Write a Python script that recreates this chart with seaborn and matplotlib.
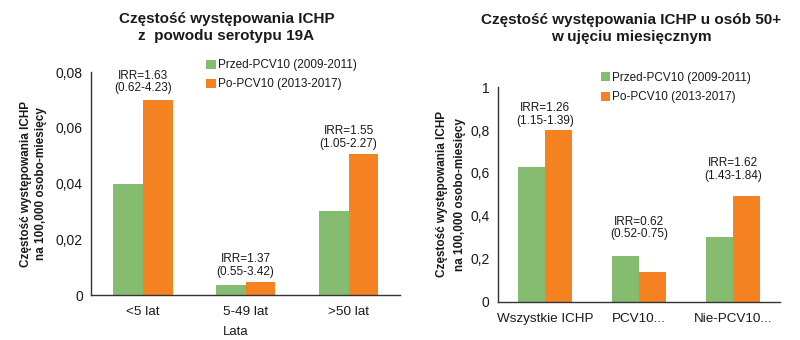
import matplotlib
matplotlib.use("Agg")
import matplotlib.pyplot as plt
import seaborn as sns
import pandas as pd
from matplotlib.patches import Patch

# ---- data ----
series_names = ["Przed-PCV10 (2009-2011)", "Po-PCV10 (2013-2017)"]

left_categories = ["<5 lat", "5-49 lat", ">50 lat"]
left_pre = [0.040, 0.0038, 0.030]
left_post = [0.070, 0.0048, 0.0505]
left_irr = ["IRR=1.63\n(0.62-4.23)", "IRR=1.37\n(0.55-3.42)", "IRR=1.55\n(1.05-2.27)"]
left_yticks = [0, 0.02, 0.04, 0.06, 0.08]
left_yticklabels = ["0", "0,02", "0,04", "0,06", "0,08"]

right_categories = ["Wszystkie ICHP", "PCV10...", "Nie-PCV10..."]
right_pre = [0.63, 0.215, 0.30]
right_post = [0.80, 0.14, 0.495]
right_irr = ["IRR=1.26\n(1.15-1.39)", "IRR=0.62\n(0.52-0.75)", "IRR=1.62\n(1.43-1.84)"]
right_yticks = [0, 0.2, 0.4, 0.6, 0.8, 1.0]
right_yticklabels = ["0", "0,2", "0,4", "0,6", "0,8", "1"]

# ---- style ----
sns.set_theme(style="white")
plt.rcParams["font.family"] = ["Liberation Sans", "DejaVu Sans"]
GREEN = "#86BC6F"
ORANGE = "#F58220"
AX_COLOR = "#333333"
TXT = "#1a1a1a"

fig = plt.figure(figsize=(8, 3.4), dpi=100)


def draw(ax, cats, pre, post, irr, yticks, yticklabels, ylim, pads, xlabel,
         ylab_spacing, ylab_pad):
    df = pd.DataFrame({
        "cat": cats * 2,
        "val": pre + post,
        "series": [series_names[0]] * len(cats) + [series_names[1]] * len(cats),
    })
    sns.barplot(data=df, x="cat", y="val", hue="series", order=cats,
                hue_order=series_names, palette=[GREEN, ORANGE],
                width=0.58, gap=0, saturation=1, legend=False, ax=ax,
                edgecolor="none")
    ax.set_xlim(-0.5, len(cats) - 0.5)
    ax.set_ylim(*ylim)
    ax.set_yticks(yticks)
    ax.set_yticklabels(yticklabels, fontsize=10, color=TXT)
    ax.set_xticks(range(len(cats)))
    ax.set_xticklabels(cats, fontsize=9.7, color=TXT)
    ax.set_xticks([i - 0.5 for i in range(len(cats) + 1)], minor=True)
    ax.tick_params(axis="x", which="major", length=0, pad=8)
    ax.tick_params(axis="x", which="minor", length=5, width=1, color=AX_COLOR, direction="out")
    ax.tick_params(axis="y", length=4, width=1, color=AX_COLOR, direction="out", pad=2)
    for s in ["top", "right"]:
        ax.spines[s].set_visible(False)
    for s in ["left", "bottom"]:
        ax.spines[s].set_color(AX_COLOR)
        ax.spines[s].set_linewidth(1)
    ax.set_ylabel("Częstość występowania ICHP\nna 100,000 osobo-miesięcy",
                  fontsize=8.5, fontweight="bold", color=TXT, labelpad=ylab_pad,
                  linespacing=ylab_spacing)
    ax.set_xlabel(xlabel, fontsize=9.5, color=TXT)
    for i, t in enumerate(irr):
        top = max(pre[i], post[i])
        ax.annotate(t, xy=(i, top), xytext=(0, pads[i]), textcoords="offset points",
                    ha="center", va="bottom", fontsize=8.5, color=TXT, linespacing=1.1)


axL = fig.add_axes([0.114, 0.132, 0.386, 0.656])
draw(axL, left_categories, left_pre, left_post, left_irr, left_yticks,
     left_yticklabels, (0, 0.08), [4, 3, 3], "Lata", 1.4, 6)
axL.xaxis.set_label_coords(0.467, -0.14)

axR = fig.add_axes([0.6225, 0.112, 0.3525, 0.632])
draw(axR, right_categories, right_pre, right_post, right_irr, right_yticks,
     right_yticklabels, (0, 1.0), [2.5, 11, 9.5], "", 1.7, 3)

handles = [Patch(facecolor=GREEN, edgecolor="none"), Patch(facecolor=ORANGE, edgecolor="none")]
for (x, y) in [(0.258, 0.826), (0.751, 0.788)]:
    fig.legend(handles, series_names, loc="upper left", bbox_to_anchor=(x, y),
               frameon=False, fontsize=8.5, handlelength=0.8, handleheight=0.8,
               handletextpad=0.15, labelspacing=0.6, borderpad=0, borderaxespad=0,
               labelcolor=TXT)

fig.text(0.283, 0.965, "Częstość występowania ICHP\nz  powodu serotypu 19A",
         ha="center", va="top", fontsize=11, fontweight="bold", color=TXT,
         linespacing=1.25)
fig.text(0.789, 0.962, "Częstość występowania ICHP u osób 50+\nw ujęciu miesięcznym",
         ha="center", va="top", fontsize=11, fontweight="bold", color=TXT,
         linespacing=1.25)

fig.savefig("out.png", dpi=100)
